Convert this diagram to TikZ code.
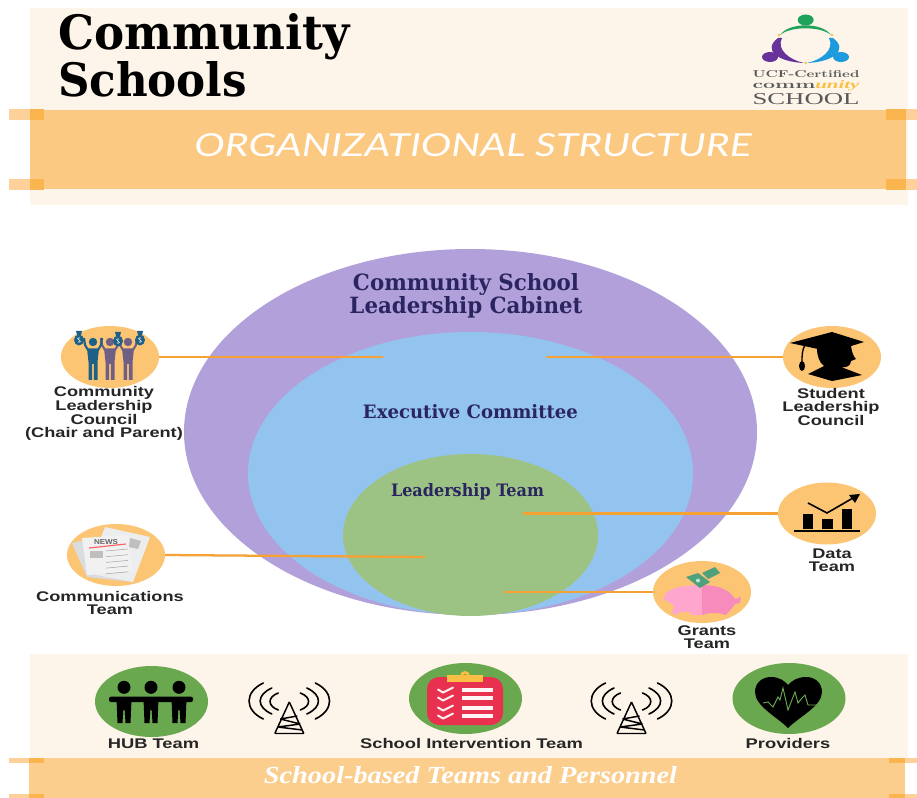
\documentclass[tikz,border=0pt]{standalone}
\usepackage{graphicx}
\usepackage{fontspec}
\usetikzlibrary{shapes.geometric}
\newfontfamily\slabfont{DejaVu Serif}
\newfontfamily\labfont{Liberation Sans}
\newfontfamily\handfont{Lato}
\newfontfamily\cursfont{Liberation Serif}
\newdimen\pxu \pxu=.75pt
\definecolor{cream}{HTML}{FEF5EA}
\definecolor{bandc}{HTML}{FBC981}
\definecolor{tabc}{HTML}{FDD199}
\definecolor{tabd}{HTML}{FBB54E}
\definecolor{purp}{HTML}{B2A0DA}
\definecolor{bluec}{HTML}{93C4F0}
\definecolor{leaf}{HTML}{9DC384}
\definecolor{linec}{HTML}{F5A133}
\definecolor{iconc}{HTML}{FBC574}
\definecolor{greenc}{HTML}{6AA84F}
\definecolor{navy}{HTML}{2A2560}
\definecolor{figblue}{HTML}{1F6086}
\definecolor{figpurp}{HTML}{6F5F85}
\definecolor{redc}{HTML}{E8304F}
\definecolor{yelc}{HTML}{FBBF45}
\definecolor{moneyc}{HTML}{4FA07C}
\definecolor{pigl}{HTML}{FFA6CF}
\definecolor{pigr}{HTML}{F78CBC}
\definecolor{paper}{HTML}{F1F1F1}
\definecolor{paperb}{HTML}{DADDE0}
\definecolor{logog}{HTML}{1FA35B}
\definecolor{logop}{HTML}{67329A}
\definecolor{logob}{HTML}{1E9BDC}
\newcommand\stlab[2]{\scalebox{#1}[1]{\begin{tabular}{@{}c@{}}#2\end{tabular}}}
\newcommand\fitbox[3]{\resizebox{#1\pxu}{#2\pxu}{#3}}
\tikzset{
  oval/.style={ellipse,inner sep=0pt,outer sep=0pt,draw=none},
  iconoval/.style={oval,fill=iconc,minimum width=98\pxu,minimum height=62\pxu},
  greenoval/.style={oval,fill=greenc,minimum width=113\pxu,minimum height=71\pxu},
  link/.style={draw=linec,line width=1.7pt},
  teamlabel/.style={inner sep=0pt,align=center,text=black!85,font=\labfont\bfseries\fontsize{10.5}{8.6}\selectfont},
  plain/.style={inner sep=0pt,outer sep=0pt},
  wave/.style={draw=black,line width=1.2pt,line cap=round},
  tower/.style={draw=black,line width=1.1pt,line join=round}
}
\newcommand\person[2]{%
  \fill[#2] (#1,342) circle[radius=4.2];
  \fill[#2] (#1-6,348.5) -- (#1+6,348.5) -- (#1+4.5,362) -- (#1+4.5,380) -- (#1+.8,380) -- (#1+.8,364) -- (#1-.8,364) -- (#1-.8,380) -- (#1-4.5,380) -- (#1-4.5,362) -- cycle;
  \draw[#2,line width=1.6pt,line join=round] (#1-9,338) -- (#1-8,345) -- (#1-5,350);
  \draw[#2,line width=1.6pt,line join=round] (#1+9,338) -- (#1+8,345) -- (#1+5,350);
}
\newcommand\moneybag[2]{%
  \fill[figblue] (#1,#2) ellipse[x radius=5,y radius=5.5];
  \fill[figblue] (#1-2,#2-5) -- (#1-3,#2-9) -- (#1+3,#2-9) -- (#1+2,#2-5) -- cycle;
  \draw[white,line width=.5pt] (#1+1.2,#2-2) .. controls (#1-2,#2-3) and (#1-2,#2) .. (#1,#2) .. controls (#1+2,#2) and (#1+2,#2+3) .. (#1-1.2,#2+2);
}
\newcommand\antenna[1]{%
  \begin{scope}[shift={(#1,0)}]
    \draw[tower] (0,702) -- (-14.5,733.5) (0,702) -- (14.5,733.5) (-9,719) -- (8,716) (-9,719) -- (11,724) (-11.5,727) -- (11,724) (-11.5,727) -- (13,730) (-14.5,733.5) -- (14.5,733.5);
    \foreach \s in {-1,1}{
      \draw[wave] (\s*26,683) .. controls (\s*45,692) and (\s*45,710) .. (\s*26,719);
      \draw[wave] (\s*17.5,688) .. controls (\s*33,695) and (\s*33,707) .. (\s*17.5,714);
      \draw[wave] (\s*11,693) .. controls (\s*22,697) and (\s*22,706) .. (\s*11,710);
    }
  \end{scope}
}
\newcommand\hubman[1]{%
  \fill[black] (#1,687.3) ellipse[x radius=6.5,y radius=6.5];
  \fill[black] (#1-7.5,699) -- (#1+7.5,699) -- (#1+6.5,723) -- (#1+1.5,723) -- (#1+.7,710) -- (#1-.7,710) -- (#1-1.5,723) -- (#1-6.5,723) -- cycle;
}
\newcommand\cliprow[1]{%
  \draw[white!92!redc,line width=1.5pt,line cap=round,line join=round] (438,#1-.5) -- (443,#1+2.5) -- (453,#1-2.5);
  \fill[white!95!redc] (462,#1-1.7) rectangle (493,#1+1.7);
}
\begin{document}
\begin{tikzpicture}[x=.75pt,y=-.75pt]
\useasboundingbox (0,0) rectangle (917,798);
\fill[white] (0,0) rectangle (917,798);
% top panel
\fill[cream] (30,8) rectangle (908,205);
\fill[bandc] (30,110) rectangle (906,189);
\foreach \a/\b in {109/120,179/190}{
  \fill[tabc] (9,\a) rectangle (30,\b);
  \fill[tabd] (30,\a) rectangle (44,\b);
  \fill[tabd] (886,\a) rectangle (906,\b);
  \fill[tabc] (906,\a) rectangle (917,\b);
}
\node[plain,anchor=base west] (titlea) at (58,50) {\fitbox{292}{36}{\slabfont\bfseries Community}};
\node[plain,anchor=base west] (titleb) at (58,97) {\fitbox{189}{35}{\slabfont\bfseries Schools}};
\node[plain,anchor=base,text=white] (bandtitle) at (473,157) {\fitbox{557}{23}{\handfont\itshape ORGANIZATIONAL STRUCTURE}};
% logo
\fill[logog] (780,35.3) .. controls (788,22) and (823,22) .. (831,35.3) .. controls (822,26) and (789,26) .. cycle;
\fill[logog] (805.7,20) ellipse[x radius=8,y radius=5.5];
\fill[logop] (770,57) ellipse[x radius=8,y radius=5];
\fill[logop] (778,38) .. controls (762,50) and (778,62) .. (804,63) .. controls (790,60) and (776,50) .. (782,38) -- cycle;
\fill[logob] (841,57) ellipse[x radius=8,y radius=5];
\fill[logob] (833,38) .. controls (849,50) and (833,62) .. (807,63) .. controls (821,60) and (835,50) .. (829,38) -- cycle;
\fill[yelc] (779,35) circle[radius=1.4] (832,35) circle[radius=1.4] (805.7,63) circle[radius=1.4];
\node[plain,anchor=base,text=black!65] (logoa) at (806,78) {\fitbox{107}{7}{\textsc{\bfseries UCF-Certified}}};
\node[plain,anchor=base,text=black!65] (logob) at (806,89) {\fitbox{107}{8}{\textsc{\bfseries comm}\textcolor{yelc}{\cursfont\itshape\bfseries unity}}};
\node[plain,anchor=base,text=black!65] (logoc) at (806,105) {\fitbox{107}{11}{\cursfont SCHOOL}};
% main circles
\node[oval,fill=purp,minimum width=573\pxu,minimum height=366\pxu] (cabinet) at (470.5,432) {};
\node[oval,fill=bluec,minimum width=445\pxu,minimum height=283\pxu] (exec) at (470.5,473.5) {};
\node[oval,fill=leaf,minimum width=255\pxu,minimum height=162\pxu] (lead) at (470.5,535) {};
\node[plain,anchor=base,text=navy] (cabtxta) at (466,291) {\fitbox{226}{17}{\slabfont\bfseries Community School}};
\node[plain,anchor=base,text=navy] (cabtxtb) at (466,314) {\fitbox{233}{17}{\slabfont\bfseries Leadership Cabinet}};
\node[plain,anchor=base,text=navy] (exectxt) at (470.5,418) {\fitbox{215}{14}{\slabfont\bfseries Executive Committee}};
\node[plain,anchor=base,text=navy] (leadtxt) at (467.5,496) {\fitbox{153}{13}{\slabfont\bfseries Leadership Team}};
% icon ovals
\node[iconoval] (cll) at (110,357) {};
\node[iconoval] (slc) at (832,357) {};
\node[iconoval] (data) at (827,513.5) {};
\node[iconoval] (grants) at (702,592) {};
\node[iconoval] (comm) at (116,555) {};
% connectors
\coordinate (cllend) at (383,357);
\coordinate (slcend) at (546,357);
\coordinate (dataend) at (523,513.5);
\coordinate (commend) at (425,557);
\coordinate (grantsend) at (504,592);
\draw[link] (cll.east) -- (cllend);
\draw[link] (slc.west) -- (slcend);
\draw[link] (data.west) -- (dataend);
\draw[link] (comm.east) -- (commend);
\draw[link] (grants.west) -- (grantsend);
% community leadership icon
\person{128}{figpurp}
\person{110}{figpurp}
\person{93}{figblue}
\moneybag{79}{340}
\moneybag{118}{341}
\moneybag{140}{340}
% graduate icon
\fill[black] (790,343) -- (832,332) -- (864,342) -- (832,352) -- cycle;
\fill[black] (817,348) -- (851,346) .. controls (852,352) and (853,356) .. (856,359) -- (851,361) .. controls (851,366) and (846,368) .. (841,367) -- (862,375) -- (832,381) -- (808,374) -- (824,366) .. controls (819,362) and (817,356) .. cycle;
\draw[black,line width=1pt] (805,345) .. controls (802,350) and (802,356) .. (802,362);
\fill[black] (802,366) ellipse[x radius=3,y radius=5];
% data icon
\fill[black] (803,514) rectangle (813,529);
\fill[black] (822,519) rectangle (833,529);
\fill[black] (842,509) rectangle (852,529);
\draw[black,line width=1.2pt] (794,531) -- (860,531);
\draw[black,line width=1.2pt] (808,503) -- (827,513) -- (853,498);
\fill[black] (860,494) -- (849,495) -- (855,503) -- cycle;
% piggy icon
\fill[moneyc] (702,573) -- (715,567) -- (720,573) -- (708,579) -- cycle;
\fill[pigl] (666,593) .. controls (672,587) and (688,585) .. (702,585) -- (702,615) -- (692,615) -- (689,612) -- (680,612) -- (676,615) -- (672,613) -- (674,606) .. controls (670,602) and (666,600) .. (663,600) -- cycle;
\fill[pigr] (702,585) .. controls (718,585) and (730,590) .. (735,599) -- (741,597) -- (740,603) -- (735,604) .. controls (732,609) and (728,612) .. (726,615) -- (718,613) -- (710,613) -- (702,615) -- cycle;
\fill[moneyc] (686,577) -- (698,573) -- (710,582) -- (700,588) -- cycle;
\fill[white!70!moneyc] (698,580.5) circle[radius=2];
% news icon
\fill[paperb] (72,543) -- (85,540) -- (100,575) -- (133,582) -- (87,577) -- cycle;
\fill[paper!80!paperb] (105,527) -- (150,537) -- (133,582) -- (87,573) -- cycle;
\fill[paper] (82,538) -- (128,535) -- (133,571) -- (87,575) -- cycle;
\node[plain,text=black!60] (news) at (106,542) {\fitbox{24}{5}{\labfont\bfseries NEWS}};
\draw[red!60!white,line width=.9pt] (89,548) -- (126,544);
\fill[black!25] (90,551) rectangle (103,558);
\foreach \t in {0,1,2,3,4}{\draw[black!35,line width=.4pt] (106,{551-\t*0.3+\t*6}) -- (128,{549-\t*0.3+\t*6});}
\fill[black!25] (130,538) -- (141,541) -- (138,549) -- (129,547) -- cycle;
% team labels
\node[teamlabel] (t1) at (104,414) {\stlab{1.3}{Community\\Leadership\\Council\\(Chair and Parent)}};
\node[teamlabel] (t2) at (831,408.5) {\stlab{1.3}{Student\\Leadership\\Council}};
\node[teamlabel] (t3) at (832,561.5) {\stlab{1.3}{Data\\Team}};
\node[teamlabel] (t4) at (707,638.5) {\stlab{1.3}{Grants\\Team}};
\node[teamlabel] (t5) at (110,604.5) {\stlab{1.3}{Communications\\Team}};
% bottom panel
\fill[cream] (30,654) rectangle (908,758);
\fill[bandc!90!white] (29,758) rectangle (905,798);
\foreach \a/\b in {758/763,794/798}{
  \fill[tabc] (9,\a) rectangle (29,\b);
  \fill[tabd] (29,\a) rectangle (44,\b);
  \fill[tabd] (889,\a) rectangle (905,\b);
  \fill[tabc] (905,\a) rectangle (917,\b);
}
\node[plain,anchor=base,text=white] (bandb) at (470.5,783) {\fitbox{413}{17}{\cursfont\itshape\bfseries School-based Teams and Personnel}};
\node[greenoval] (hub) at (151.5,701.5) {};
\node[greenoval] (sit) at (465.5,698.5) {};
\node[greenoval] (prov) at (789,698.5) {};
\hubman{124}\hubman{151}\hubman{179}
\fill[black,rounded corners=1.5pt] (109,696.7) rectangle (193,702);
\antenna{289.3}
\antenna{631.5}
\fill[redc,rounded corners=9pt] (427,677) rectangle (503,725);
\fill[yelc] (465,676) circle[radius=5];
\fill[yelc!60!black] (465,675.5) ellipse[x radius=2,y radius=1.2];
\fill[yelc] (447,675) rectangle (483,682);
\cliprow{690}\cliprow{698}\cliprow{708}\cliprow{716}
\fill[black] (788,728) .. controls (777,717) and (755,706) .. (755,692) .. controls (755,682) and (763,677) .. (771,677) .. controls (779,677) and (785,681) .. (788,685) .. controls (791,681) and (798,677) .. (806,677) .. controls (814,677) and (822,682) .. (822,692) .. controls (822,706) and (799,717) .. cycle;
\draw[greenc,line width=.7pt] (763,703) -- (768,702) -- (773,707) -- (778,697) -- (780,700) -- (783,688) -- (788,710) -- (795,692) -- (798,703) -- (802,698) -- (805,695) -- (808,705) -- (828,705);
\node[teamlabel] (b1) at (153.5,745) {\stlab{1.31}{HUB Team}};
\node[teamlabel] (b2) at (471.5,745) {\stlab{1.31}{School Intervention Team}};
\node[teamlabel] (b3) at (788,745) {\stlab{1.31}{Providers}};
\end{tikzpicture}
\end{document}
